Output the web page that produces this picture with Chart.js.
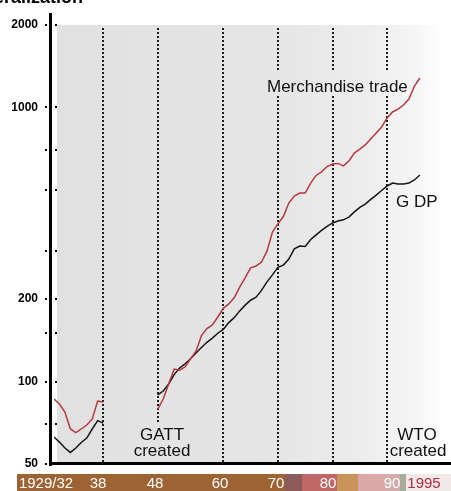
<!DOCTYPE html>
<html>
<head>
<meta charset="utf-8">
<script src="https://cdn.jsdelivr.net/npm/chart.js@4.4.1/dist/chart.umd.min.js"></script>
<style>
  html, body { margin: 0; padding: 0; background: #fff; }
  #wrap { width: 451px; height: 491px; }
</style>
</head>
<body>
<div id="wrap"><canvas id="myChart" width="451" height="491"></canvas></div>
<script>
// data (index, log scale)
const years = [1929, 1930, 1931, 1932, 1933, 1934, 1935, 1936, 1937, 1938,
  1948, 1949, 1950, 1951, 1952, 1953, 1954, 1955, 1956, 1957, 1958, 1959,
  1960, 1961, 1962, 1963, 1964, 1965, 1966, 1967, 1968, 1969,
  1970, 1971, 1972, 1973, 1974, 1975, 1976, 1977, 1978, 1979,
  1980, 1981, 1982, 1983, 1984, 1985, 1986, 1987, 1988, 1989,
  1990, 1991, 1992, 1993, 1994, 1995, 1996];

const trade = [86.3, 82.8, 77.4, 67.1, 65.1, 67.1, 69.4, 73.0, 84.9, 84.2,
  79.3, 86.3, 97.9, 111, 110, 113, 121, 129, 147, 156, 161, 172,
  185, 192, 202, 221, 239, 260, 264, 273, 299, 351,
  376, 400, 448, 475, 487, 487, 530, 565, 582, 609,
  622, 625, 612, 638, 682, 705, 730, 767, 807, 849,
  916, 963, 987, 1021, 1074, 1198, 1281];

const gdp = [62.7, 60.1, 57.2, 55.1, 57.2, 59.9, 62.2, 67.1, 72.0, 70.5,
  89.3, 92.3, 97.9, 106, 112, 116, 121, 127, 133, 139, 144, 150,
  155, 164, 171, 181, 190, 198, 203, 215, 231, 245,
  261, 266, 280, 305, 312, 311, 330, 343, 356, 368,
  379, 385, 389, 398, 416, 432, 444, 462, 479, 498,
  517, 530, 526, 526, 530, 544, 567];

const eventYears = [1938, 1948, 1960, 1970, 1980, 1990];
const yTickValues = [2000, 1000, 700, 500, 300, 200, 150, 100, 70, 50];
const yLabelValues = [2000, 1000, 200, 100, 50];
const stripLabels = ['1929/32', '38', '48', '60', '70', '80', '90', '1995'];

// points, with a break where years jump (war gap)
function series(vals) {
  let out = [];
  years.forEach((yr, i) => {
    if (i > 0 && yr - years[i - 1] > 1) out.push({ x: yr - 1, y: null });
    out.push({ x: yr, y: vals[i] });
  });
  return out;
}

const FONT = 'Liberation Sans, Arial, sans-serif';

let plotFill = null;
function getFill(ctx, area) {
  let g = ctx.createLinearGradient(area.left, 0, area.right, 0);
  g.addColorStop(0, '#e1e1e1');
  g.addColorStop(0.55, '#e5e5e5');
  g.addColorStop(0.8, '#ededed');
  g.addColorStop(0.93, '#f6f6f6');
  g.addColorStop(1, '#ffffff');
  return g;
}

// label with a patch of background behind it (cuts the dotted lines)
function boxedText(ctx, lines, cx, top, w, h) {
  ctx.fillStyle = plotFill;
  ctx.fillRect(cx - w / 2, top, w, h);
  ctx.fillStyle = '#111';
  ctx.font = '17px ' + FONT;
  ctx.textAlign = 'center';
  ctx.textBaseline = 'alphabetic';
  lines.forEach((t, i) => ctx.fillText(t, cx, top + 16 + i * 16));
}

const chartDecor = {
  id: 'chartDecor',
  beforeDraw(chart) {
    const ctx = chart.ctx, a = chart.chartArea;
    ctx.save();
    ctx.fillStyle = '#fff';
    ctx.fillRect(0, 0, chart.width, chart.height);
    plotFill = getFill(ctx, a);
    ctx.fillStyle = plotFill;
    ctx.fillRect(a.left + 3, a.top, a.right - a.left - 3, a.bottom - a.top);
    ctx.restore();
  },
  beforeDatasetsDraw(chart) {
    const ctx = chart.ctx, a = chart.chartArea, xs = chart.scales.x;
    ctx.save();
    // dotted event lines
    ctx.strokeStyle = '#1c1c1c';
    ctx.lineWidth = 2;
    ctx.setLineDash([2, 2]);
    eventYears.forEach(yr => {
      const x = Math.round(xs.getPixelForValue(yr));
      ctx.beginPath();
      ctx.moveTo(x, a.top + 3);
      ctx.lineTo(x, a.bottom - 2);
      ctx.stroke();
    });
    ctx.setLineDash([]);
    // annotations
    ctx.fillStyle = plotFill;
    ctx.fillRect(263, 71, 148, 25);
    ctx.fillStyle = '#111';
    ctx.font = '17px ' + FONT;
    ctx.textAlign = 'left';
    ctx.fillText('Merchandise trade', 267, 92);
    ctx.fillText('G DP', 396, 207);
    boxedText(ctx, ['GATT', 'created'], 162, 424, 62, 38);
    ctx.fillStyle = plotFill;
    ctx.fillRect(389, 424, 60, 38);
    ctx.fillStyle = '#111';
    ctx.textAlign = 'center';
    ctx.fillText('WTO', 417, 440);
    ctx.fillText('created', 418, 456);
    ctx.restore();
  },
  afterDraw(chart) {
    const ctx = chart.ctx, a = chart.chartArea, ys = chart.scales.y;
    ctx.save();
    // axis lines
    ctx.fillStyle = '#000';
    ctx.fillRect(a.left - 5, 13, 3, a.bottom - 11);
    ctx.fillRect(a.left - 5, a.bottom - 2, chart.width, 3);
    // tick dots on both sides of the axis
    yTickValues.forEach(v => {
      const y = Math.round(ys.getPixelForValue(v));
      ctx.fillRect(a.left - 9, y - 1, 2, 2);
      ctx.fillRect(a.left + 1, y - 1, 2, 2);
    });
    // coloured year strip
    const segs = [[17, 285, '#9d6333'], [285, 302, '#8b5b5c'], [302, 337, '#bf6767'],
      [337, 358, '#c9935c'], [358, 386, '#dba8a8'], [386, 400, '#d2abab'],
      [400, 406, '#a9ab9b'], [406, 451, '#f1e8e8']];
    segs.forEach(s => { ctx.fillStyle = s[2]; ctx.fillRect(s[0], 474, s[1] - s[0], 17); });
    const labX = [46, 98, 155, 220, 276, 328, 392, 424];
    ctx.font = '15px ' + FONT;
    ctx.textAlign = 'center';
    stripLabels.forEach((t, i) => {
      ctx.fillStyle = i === stripLabels.length - 1 ? '#b52a3e' : '#fff';
      ctx.fillText(t, labX[i], 488);
    });
    // cut-off heading at the very top
    ctx.fillStyle = '#000';
    ctx.font = 'bold 18px ' + FONT;
    ctx.textAlign = 'right';
    ctx.fillText('liberalization', 83, 3);
    ctx.restore();
  }
};

const ctx = document.getElementById('myChart').getContext('2d');

var myChart = new Chart(ctx, {
  type: 'line',
  data: {
    datasets: [{
      label: 'Merchandise trade',
      data: series(trade),
      borderColor: '#b8393c',
      borderWidth: 1.5,
      pointRadius: 0,
      tension: 0
    }, {
      label: 'GDP',
      data: series(gdp),
      borderColor: '#161616',
      borderWidth: 1.5,
      pointRadius: 0,
      tension: 0
    }]
  },
  options: {
    responsive: false,
    animation: false,
    devicePixelRatio: 1,
    layout: { padding: { top: 25, right: 6, bottom: 27, left: 0 } },
    plugins: { legend: { display: false }, tooltip: { enabled: false } },
    scales: {
      x: { type: 'linear', min: 1929, max: 2000.6, display: false },
      y: {
        type: 'logarithmic',
        min: 50,
        max: 2000,
        afterFit(s) { s.width = 54; },
        afterBuildTicks(s) { s.ticks = yTickValues.map(v => ({ value: v })); },
        grid: { display: false, drawTicks: false },
        border: { display: false },
        ticks: {
          autoSkip: false,
          padding: 16,
          color: '#000',
          font: { family: FONT, size: 12, weight: 'bold' },
          callback: v => yLabelValues.includes(v) ? String(v) : ''
        }
      }
    }
  },
  plugins: [chartDecor]
});
</script>
</body>
</html>
